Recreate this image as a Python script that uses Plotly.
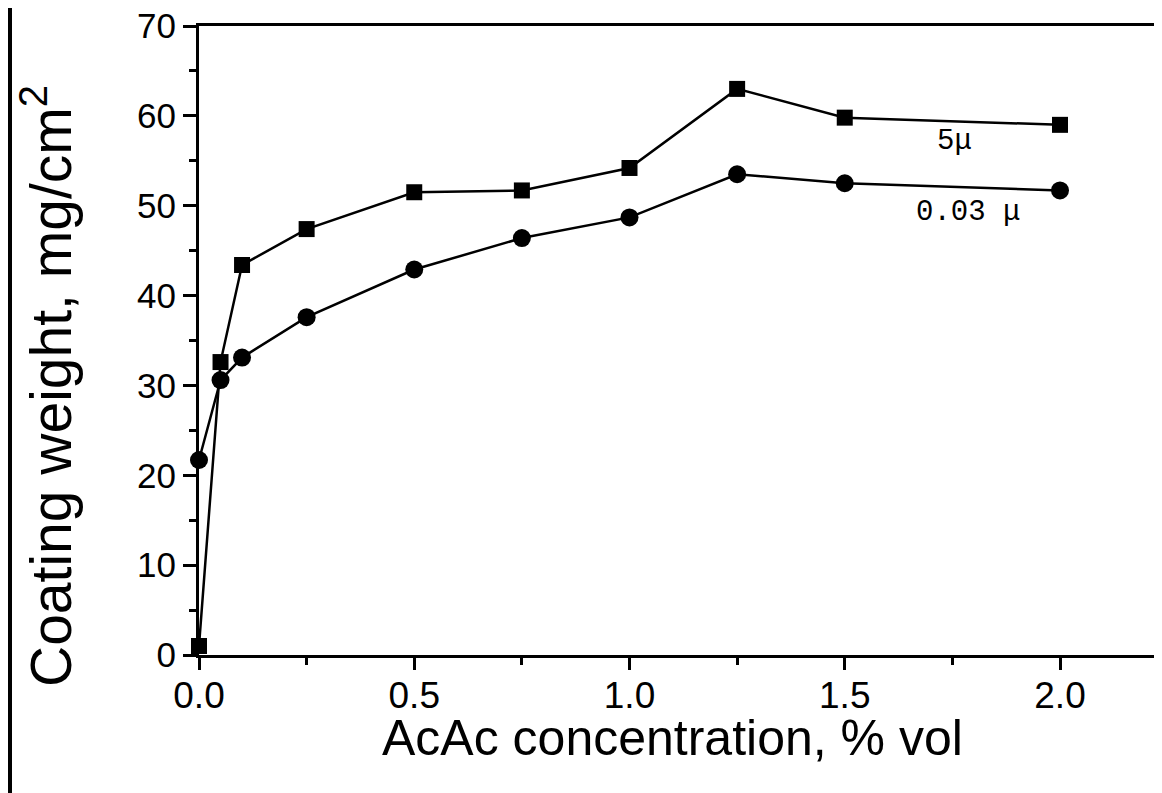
import plotly.graph_objects as go

# Data
acac = [0.0, 0.05, 0.1, 0.25, 0.5, 0.75, 1.0, 1.25, 1.5, 2.0]
coat_5u = [1.0, 32.6, 43.4, 47.4, 51.5, 51.7, 54.2, 63.0, 59.8, 59.0]
coat_003u = [21.7, 30.6, 33.1, 37.6, 42.9, 46.4, 48.7, 53.5, 52.5, 51.7]
label_5u = "5\u03bc"
label_003u = "0.03 \u03bc"
x_title = "AcAc concentration, % vol"
y_title = "Coating weight, mg/cm<sup>2</sup>"

W, H = 1162, 793
OFF = 8  # page body margin
L, T = 199 - OFF, 26 - OFF
R = OFF
B = H - (655 - OFF)
PW, PH = W - L - R, H - T - B


def px(wx):
    return (wx - OFF - L) / PW


def py(wy):
    return ((655 - OFF) - (wy - OFF)) / PH


fig = go.Figure()
fig.add_trace(go.Scatter(
    x=acac, y=coat_5u, mode="lines+markers", name=label_5u,
    line=dict(color="black", width=2.5),
    marker=dict(symbol="square", size=16, color="black"),
    cliponaxis=False,
))
fig.add_trace(go.Scatter(
    x=acac, y=coat_003u, mode="lines+markers", name=label_003u,
    line=dict(color="black", width=2.5),
    marker=dict(symbol="circle", size=18, color="black"),
    cliponaxis=False,
))

fig.add_annotation(x=1.756, y=57.1, xref="x", yref="y", text=label_5u,
                   showarrow=False, font=dict(family="Liberation Mono", size=29, color="black"))
fig.add_annotation(x=1.786, y=49.2, xref="x", yref="y", text=label_003u,
                   showarrow=False, font=dict(family="Liberation Mono", size=29, color="black"))

fig.add_annotation(x=px(47), y=py(386), xref="paper", yref="paper", text=y_title,
                   textangle=-90, showarrow=False, xanchor="center", yanchor="middle",
                   font=dict(family="Liberation Sans", size=57, color="black"))
fig.add_annotation(x=px(672), y=py(738), xref="paper", yref="paper", text=x_title,
                   showarrow=False, xanchor="center", yanchor="middle",
                   font=dict(family="Liberation Sans", size=50, color="black"))

# scan border line on the left edge
fig.add_shape(type="line", xref="paper", yref="paper",
              x0=px(OFF + 2), x1=px(OFF + 2), y0=py(H + OFF), y1=py(0),
              line=dict(color="black", width=4))

fig.update_xaxes(
    range=[0, PW / 430.5], showline=True, linecolor="black", linewidth=3,
    mirror=True, ticks="outside", ticklen=12, tickwidth=3, tickcolor="black",
    tickvals=[0.0, 0.5, 1.0, 1.5, 2.0], ticktext=["0.0", "0.5", "1.0", "1.5", "2.0"],
    minor=dict(ticks="outside", ticklen=7, tickwidth=2.5, tickcolor="black",
               tickvals=[0.25, 0.75, 1.25, 1.75]),
    showgrid=False, zeroline=False, ticklabelstandoff=-6,
    ticklabeloverflow="allow", automargin=False,
    tickfont=dict(family="Liberation Sans", size=37, color="black"),
)
fig.update_yaxes(
    range=[0, 70], showline=True, linecolor="black", linewidth=3,
    ticks="outside", ticklen=13, tickwidth=3, tickcolor="black",
    tickvals=[0, 10, 20, 30, 40, 50, 60, 70],
    minor=dict(ticks="outside", ticklen=7, tickwidth=2.5, tickcolor="black",
               tickvals=[5, 15, 25, 35, 45, 55, 65]),
    showgrid=False, zeroline=False, ticklabelstandoff=0,
    ticklabeloverflow="allow", automargin=False,
    tickfont=dict(family="Liberation Sans", size=35, color="black"),
)

fig.update_layout(
    width=W, height=H, margin=dict(l=L, r=R, t=T, b=B, pad=0),
    plot_bgcolor="white", paper_bgcolor="white", showlegend=False,
)

fig.write_html("out.html")
